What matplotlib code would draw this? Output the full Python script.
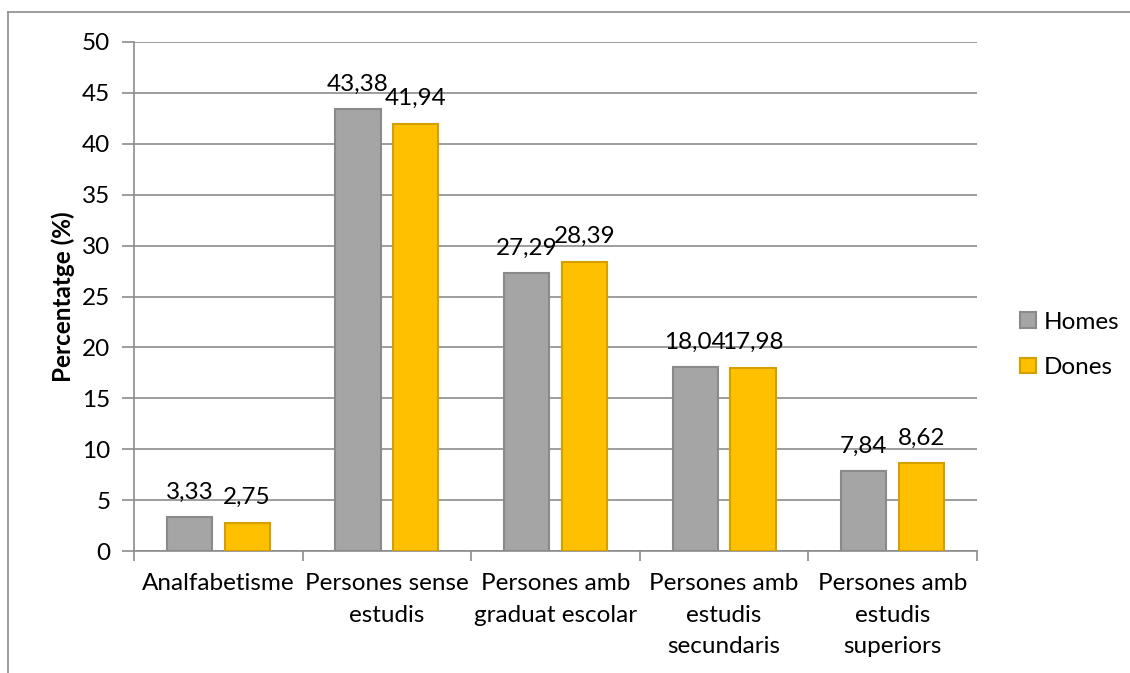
import matplotlib
matplotlib.use("Agg")
import matplotlib.pyplot as plt
import numpy as np
from matplotlib.lines import Line2D

categories = ["Analfabetisme", "Persones sense\nestudis", "Persones amb\ngraduat escolar",
              "Persones amb\nestudis\nsecundaris", "Persones amb\nestudis\nsuperiors"]
homes = [3.33, 43.38, 27.29, 18.04, 7.84]
dones = [2.75, 41.94, 28.39, 17.98, 8.62]
series_names = ["Homes", "Dones"]
yticks = [0, 5, 10, 15, 20, 25, 30, 35, 40, 45, 50]

plt.rcParams['font.family'] = ['Lato', 'DejaVu Sans']
FS = 17.5

W, H = 1130, 673
fig = plt.figure(figsize=(W / 100, H / 100), dpi=100)

# outer chart border (cropped): left and top lines
fig.add_artist(Line2D([8 / W, 8 / W], [0, 1 - 12 / H], color="#8c8c8c", lw=1.2, transform=fig.transFigure))
fig.add_artist(Line2D([8 / W, 1], [1 - 12 / H, 1 - 12 / H], color="#8c8c8c", lw=1.2, transform=fig.transFigure))

left, right, top, bottom = 134, 977, 42, 551
ax = fig.add_axes([left / W, 1 - bottom / H, (right - left) / W, (bottom - top) / H])

x = np.arange(len(categories))
bw = 0.268
off = 0.171
gray_face, gray_edge = "#A5A5A5", "#8A8A8A"
gold_face, gold_edge = "#FFC000", "#D4A000"
b1 = ax.bar(x - off, homes, bw, color=gray_face, edgecolor=gray_edge, linewidth=1.5, zorder=3, label=series_names[0])
b2 = ax.bar(x + off, dones, bw, color=gold_face, edgecolor=gold_edge, linewidth=1.5, zorder=3, label=series_names[1])

for bars, vals in ((b1, homes), (b2, dones)):
    for rect, v in zip(bars, vals):
        ax.annotate(f"{v:.2f}".replace(".", ","),
                    (rect.get_x() + rect.get_width() / 2, v),
                    xytext=(0, 13.5), textcoords="offset points",
                    ha="center", va="baseline", fontsize=FS, color="black", zorder=4)

ax.set_xlim(-0.5, len(categories) - 0.5)
ax.set_ylim(0, 50)
ax.set_yticks(yticks)
ax.set_yticklabels([str(t) for t in yticks], fontsize=FS)
ax.yaxis.grid(True, color="#8c8c8c", lw=1.2, zorder=0)
ax.set_axisbelow(True)

ax.set_xticks(x)
ax.set_xticklabels(categories, fontsize=FS, linespacing=1.62, va="top")
ax.tick_params(axis="x", length=0, pad=16)
ax.tick_params(axis="y", length=9, width=1.2, color="#8c8c8c", pad=8)
# category boundary ticks
ax.set_xticks(np.arange(-0.5, len(categories)), minor=True)
ax.tick_params(axis="x", which="minor", length=7, width=1.2, color="#8c8c8c")

for s in ("top", "right"):
    ax.spines[s].set_visible(False)
for s in ("left", "bottom"):
    ax.spines[s].set_color("#8c8c8c")
    ax.spines[s].set_linewidth(1.2)

ax.set_ylabel("Percentatge (%)", fontsize=FS, fontweight="bold")
ax.yaxis.set_label_coords(-59 / (right - left), 0.5)

ax.legend(loc="center left", bbox_to_anchor=(1.040, 0.405), frameon=False, fontsize=FS,
          handlelength=0.62, handleheight=0.62, handletextpad=0.35, labelspacing=1.0,
          borderaxespad=0)

fig.savefig("out.png", dpi=100)
